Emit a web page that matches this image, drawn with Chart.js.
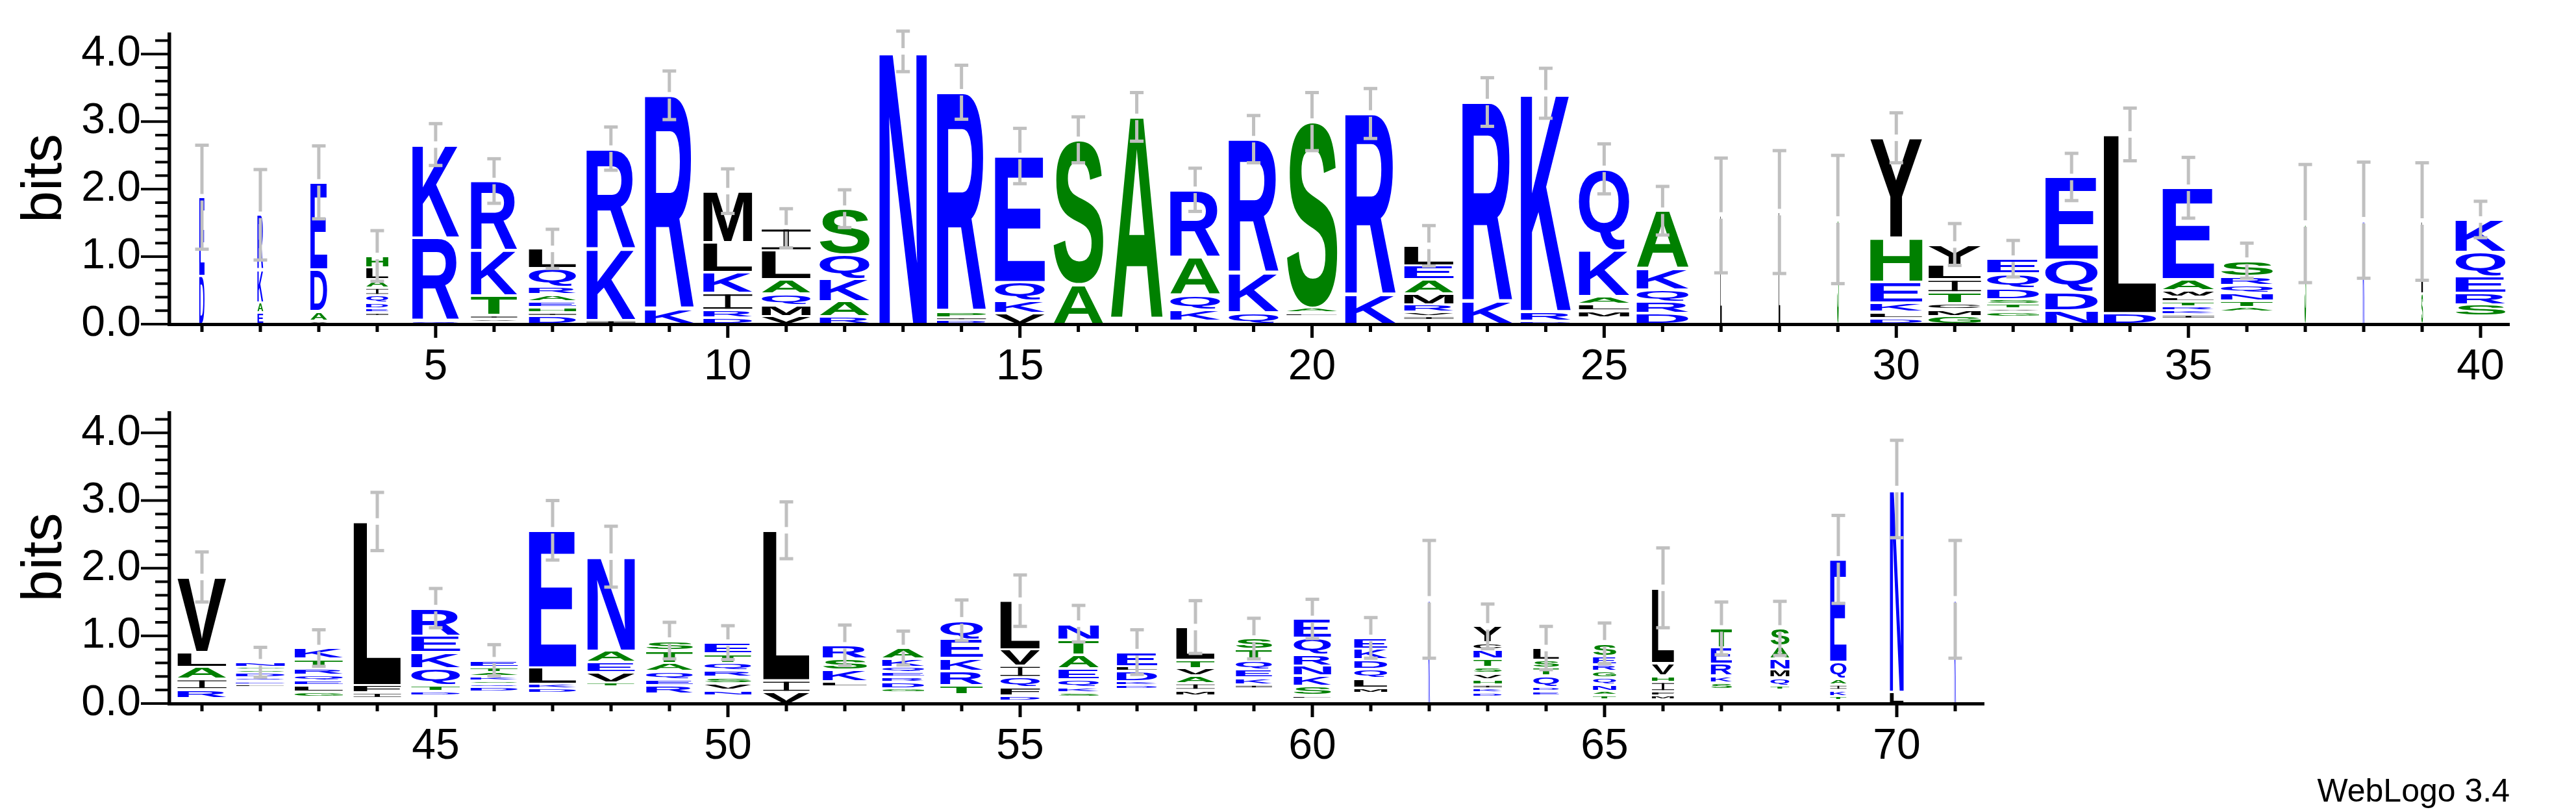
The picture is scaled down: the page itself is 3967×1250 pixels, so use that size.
<!DOCTYPE html>
<html>
<head>
<meta charset="utf-8">
<title>WebLogo</title>
<script src="https://cdn.jsdelivr.net/npm/chart.js@4"></script>
<style>
  html, body { margin: 0; padding: 0; background: #fff; }
  body { width: 3967px; height: 1250px; position: relative; overflow: hidden; }
  canvas { position: absolute; left: 0; }
  #topLogo { top: 0; }
  #bottomLogo { top: 600px; }
  #credit {
    position: absolute; right: 102px; top: 1192px;
    font: 50px "Liberation Sans", Arial, sans-serif; line-height: 50px; color: #000;
  }
</style>
</head>
<body>
<canvas id="topLogo" width="3967" height="620"></canvas>
<canvas id="bottomLogo" width="3967" height="650"></canvas>
<div id="credit">WebLogo 3.4</div>
<script>
// positions (x categories)
const topPositions = [1, 2, 3, 4, 5, 6, 7, 8, 9, 10, 11, 12, 13, 14, 15, 16, 17, 18, 19, 20,
  21, 22, 23, 24, 25, 26, 27, 28, 29, 30, 31, 32, 33, 34, 35, 36, 37, 38, 39, 40];
const bottomPositions = [41, 42, 43, 44, 45, 46, 47, 48, 49, 50, 51, 52, 53, 54, 55, 56,
  57, 58, 59, 60, 61, 62, 63, 64, 65, 66, 67, 68, 69, 70, 71];

const yTicks = [0, 1, 2, 3, 4];
const yMax = 4.32;

// letters per column, bottom to top ('-' = tiny letters too small to draw)
const topLetters = ['DE', 'EAKR', 'VADE', '-IEDQIALH', 'QRK', '-VITKR', 'DIHEARQL', 'IKR',
  'KR', 'DRIKLM', 'VMQALI', 'RAKQS', 'N', 'DIPR', 'VKQE', 'AS', '-A', '-KQAR', 'QKR', '-LAS',
  'KR', '-IVRMAEL', 'KR', 'DRK', '-MLAKQ', 'DRQKA', 'L', 'L', 'S', 'DLKEHY', 'GMCTILY',
  '-GVTSDQE', 'NDQE', 'DL', '-IKRTLWAE', '-ATNQRS', 'S', 'K', 'SL', '-SREQK'];

// bits per letter, same order
const topBits = [
  [0.71, 1.17], [0.17, 0.15, 0.48, 0.82], [0.05, 0.14, 0.62, 1.29],
  [0.12, 0.05, 0.06, 0.09, 0.11, 0.11, 0.12, 0.18, 0.17], [0.05, 1.23, 1.38],
  [0.03, 0.05, 0.05, 0.29, 0.67, 1.03], [0.12, 0.05, 0.08, 0.085, 0.105, 0.115, 0.27, 0.29],
  [0.06, 1.06, 1.48], [0.22, 3.17], [0.1, 0.11, 0.25, 0.31, 0.44, 0.76],
  [0.12, 0.16, 0.17, 0.21, 0.43, 0.33], [0.11, 0.23, 0.33, 0.36, 0.68], [4.04],
  [0.06, 0.04, 0.085, 3.25], [0.16, 0.19, 0.27, 1.87], [0.59, 2.14], [0.07, 3.0],
  [0.05, 0.16, 0.22, 0.56, 1.0], [0.17, 0.59, 1.98], [0.12, 0.05, 0.07, 2.76], [0.43, 2.69],
  [0.06, 0.06, 0.06, 0.11, 0.16, 0.21, 0.21, 0.29], [0.33, 2.96], [0.05, 0.14, 3.23],
  [0.1, 0.1, 0.1, 0.11, 0.68, 1.21], [0.16, 0.17, 0.18, 0.31, 0.86], [1.61], [1.66], [1.55],
  [0.09, 0.09, 0.14, 0.31, 0.65, 1.48], [0.12, 0.1, 0.09, 0.16, 0.19, 0.22, 0.3],
  [0.11, 0.07, 0.05, 0.07, 0.07, 0.16, 0.22, 0.22], [0.2, 0.27, 0.48, 1.23], [0.16, 2.65],
  [0.08, 0.06, 0.06, 0.06, 0.08, 0.06, 0.1, 0.16, 1.36], [0.18, 0.07, 0.1, 0.11, 0.12, 0.13, 0.23],
  [1.49], [1.54], [0.45, 1.07], [0.12, 0.17, 0.17, 0.25, 0.36, 0.48]
];

// column width as a fraction of a full stack
const topWidths = [0.1, 0.11, 0.32, 0.42, 0.89, 0.88, 0.9, 0.93, 0.93, 0.93, 0.93, 0.95, 0.9,
  0.93, 0.95, 0.95, 0.99, 0.95, 0.95, 0.96, 0.96, 0.94, 0.95, 0.95, 0.96, 0.99, 0.03, 0.03,
  0.03, 0.99, 1.0, 0.99, 1.0, 1.0, 0.98, 0.99, 0.03, 0.03, 0.03, 0.95];

// error bar half heights (bits)
const topErrors = [0.77, 0.67, 0.54, 0.375, 0.31, 0.33, 0.29, 0.32, 0.36, 0.33, 0.29, 0.28,
  0.30, 0.40, 0.41, 0.34, 0.36, 0.32, 0.35, 0.43, 0.37, 0.30, 0.36, 0.37, 0.37, 0.36, 0.85,
  0.91, 0.95, 0.37, 0.31, 0.27, 0.35, 0.39, 0.45, 0.26, 0.875, 0.86, 0.87, 0.27];

const bottomLetters = ['-RIALV', '-LEQDSGN', '-GLEQRTK', '-IFL', '-DTQKER', '-DQSKATE',
  '-DKLE', '-TVEAN', '-REQATS', '-NVSRQTE', 'VIL', '-LKSR', '-GDREQKA', '-TRKEQ', '-DFQIVL',
  '-SKQEATN', '-DKDLE', '-MIAVTL', '-IKEQTS', '-LSKNRQE', '-MLQDKE', 'K', '-DKIHVSTNCY',
  '-EDQTSL', '-TANQGRES', '-MFIHVL', '-SKRET', '-TQMNAS', '-TKIAQE', 'LN', 'K'];

const bottomBits = [
  [0.08, 0.13, 0.15, 0.18, 0.22, 1.11], [0.24, 0.04, 0.05, 0.05, 0.07, 0.05, 0.04, 0.07],
  [0.1, 0.07, 0.1, 0.07, 0.08, 0.1, 0.14, 0.16], [0.08, 0.08, 0.11, 2.42],
  [0.12, 0.06, 0.09, 0.25, 0.24, 0.24, 0.41], [0.17, 0.07, 0.05, 0.05, 0.06, 0.06, 0.08, 0.1],
  [0.15, 0.07, 0.07, 0.24, 2.03], [0.25, 0.06, 0.15, 0.15, 0.17, 1.39],
  [0.14, 0.13, 0.09, 0.12, 0.12, 0.19, 0.14], [0.12, 0.08, 0.1, 0.09, 0.1, 0.11, 0.14, 0.16],
  [0.17, 0.17, 2.22], [0.25, 0.08, 0.17, 0.16, 0.2],
  [0.16, 0.06, 0.1, 0.07, 0.07, 0.08, 0.12, 0.16], [0.13, 0.14, 0.21, 0.19, 0.28, 0.28],
  [0.04, 0.08, 0.12, 0.15, 0.17, 0.24, 0.72], [0.1, 0.06, 0.08, 0.12, 0.16, 0.2, 0.22, 0.24],
  [0.21, 0.06, 0.06, 0.15, 0.07, 0.21], [0.12, 0.08, 0.1, 0.11, 0.11, 0.12, 0.49],
  [0.22, 0.06, 0.1, 0.12, 0.13, 0.17, 0.16], [0.07, 0.05, 0.14, 0.15, 0.15, 0.16, 0.25, 0.28],
  [0.15, 0.08, 0.14, 0.14, 0.14, 0.16, 0.16], [1.54],
  [0.1, 0.06, 0.06, 0.06, 0.08, 0.09, 0.09, 0.12, 0.14, 0.1, 0.24],
  [0.12, 0.06, 0.06, 0.17, 0.12, 0.11, 0.18], [0.06, 0.06, 0.06, 0.1, 0.1, 0.1, 0.1, 0.12, 0.19],
  [0.06, 0.06, 0.06, 0.14, 0.09, 0.19, 1.11], [0.21, 0.1, 0.1, 0.18, 0.24, 0.28],
  [0.2, 0.06, 0.12, 0.12, 0.16, 0.19, 0.26], [0.05, 0.06, 0.09, 0.08, 0.09, 0.24, 1.52],
  [0.17, 3.0], [1.54]
];

const bottomWidths = [0.93, 0.93, 0.92, 0.9, 0.93, 0.9, 0.9, 0.9, 0.89, 0.89, 0.88, 0.84, 0.8,
  0.81, 0.75, 0.77, 0.77, 0.73, 0.69, 0.71, 0.63, 0.03, 0.54, 0.49, 0.44, 0.42, 0.4, 0.36,
  0.31, 0.26, 0.03];

const bottomErrors = [0.37, 0.22, 0.27, 0.43, 0.29, 0.23, 0.44, 0.45, 0.27, 0.25, 0.42, 0.30,
  0.25, 0.30, 0.38, 0.27, 0.33, 0.39, 0.30, 0.29, 0.30, 0.87, 0.33, 0.32, 0.30, 0.59, 0.39,
  0.40, 0.65, 0.72, 0.87];

const FONT = '"Liberation Sans", Arial, Helvetica, sans-serif';

// hydrophobicity colour scheme
function letterColor(ch) {
  if ('RKDENQ'.includes(ch)) return '#0000ff';
  if ('SGHTAP'.includes(ch)) return '#008000';
  return '#000000';
}

// stretch one glyph so it fills its box
function drawLetter(ctx, ch, cx, w, top, bottom) {
  const inset = 2;
  let y0 = top + inset;
  let y1 = bottom - inset;
  if (y1 - y0 < 1) {
    const mid = (top + bottom) / 2;
    y0 = mid - 0.5;
    y1 = mid + 0.5;
  }
  const h = y1 - y0;
  const x0 = cx - w / 2;

  ctx.save();
  ctx.fillStyle = letterColor(ch);
  if (ch === 'I') {
    const bar = Math.max(h * 0.1, 0.6);
    const stem = Math.max(w * 0.11, 1);
    ctx.fillRect(x0, y0, w, bar);
    ctx.fillRect(x0, y1 - bar, w, bar);
    ctx.fillRect(cx - stem / 2, y0, stem, h);
  } else {
    ctx.font = 'bold 200px ' + FONT;
    ctx.textBaseline = 'alphabetic';
    ctx.textAlign = 'left';
    const m = ctx.measureText(ch);
    const gl = -m.actualBoundingBoxLeft;
    const gr = m.actualBoundingBoxRight;
    const gt = -m.actualBoundingBoxAscent;
    const gb = m.actualBoundingBoxDescent;
    ctx.translate(x0, y0);
    ctx.scale(w / (gr - gl), h / (gb - gt));
    ctx.translate(-gl, -gt);
    ctx.fillText(ch, 0, 0);
  }
  ctx.restore();
}

function makeLogo(canvasId, positions, letters, bits, widths, errors, padTop, padRight, axisHeight) {
  const layers = Math.max(...letters.map(s => s.length));
  const datasets = [];
  for (let k = 0; k < layers; k++) {
    datasets.push({
      data: bits.map(col => (col[k] !== undefined ? col[k] : null)),
      backgroundColor: 'rgba(0,0,0,0)',
      borderWidth: 0,
      barPercentage: 0.9,
      categoryPercentage: 1.0
    });
  }

  const logoPlugin = {
    id: 'logo',
    afterDatasetsDraw(chart) {
      const ctx = chart.ctx;
      const xs = chart.scales.x;
      const ys = chart.scales.y;

      // letters
      chart.data.datasets.forEach((ds, k) => {
        const meta = chart.getDatasetMeta(k);
        meta.data.forEach((bar, j) => {
          const ch = letters[j][k];
          if (!ch || ch === '-') return;
          drawLetter(ctx, ch, bar.x, bar.width * widths[j], bar.y, bar.base);
        });
      });

      // error bars
      ctx.save();
      ctx.fillStyle = '#c0c0c0';
      bits.forEach((col, j) => {
        const total = col.reduce((a, b) => a + b, 0);
        const x = xs.getPixelForValue(j);
        const yTop = ys.getPixelForValue(total + errors[j]);
        const yMid = ys.getPixelForValue(total);
        const yBot = ys.getPixelForValue(Math.max(total - errors[j], 0));
        const gap = 5;
        ctx.fillRect(x - 2.5, yTop, 5, yMid - gap - yTop);
        ctx.fillRect(x - 2.5, yMid + gap, 5, yBot - yMid - gap);
        ctx.fillRect(x - 10.5, yTop - 2.5, 21, 5);
        ctx.fillRect(x - 10.5, yBot - 2.5, 21, 5);
      });
      ctx.restore();
    },
    afterDraw(chart) {
      const ctx = chart.ctx;
      const xs = chart.scales.x;
      const ys = chart.scales.y;
      const { left, right, top, bottom } = chart.chartArea;
      ctx.save();
      ctx.fillStyle = '#000';
      // axis lines
      ctx.fillRect(left - 8, top, 5.5, bottom - top + 3);
      ctx.fillRect(left - 8, bottom - 2, right - left + 8, 5);
      // y ticks, minor every 0.2
      for (let i = 0; i <= 21; i++) {
        const v = i * 0.2;
        const y = ys.getPixelForValue(v);
        const len = i % 5 === 0 ? 46 : 24;
        ctx.fillRect(left - 3 - len, y - 2, len, 4);
      }
      // x ticks
      positions.forEach((p, j) => {
        const x = xs.getPixelForValue(j);
        const len = p % 5 === 0 ? 21 : 12;
        ctx.fillRect(x - 2.5, bottom, 5, len);
      });
      ctx.restore();
    }
  };

  return new Chart(document.getElementById(canvasId), {
    type: 'bar',
    data: { labels: positions.map(String), datasets: datasets },
    options: {
      responsive: false,
      animation: false,
      devicePixelRatio: 1,
      layout: { padding: { left: 0, right: padRight, top: padTop, bottom: 0 } },
      plugins: { legend: { display: false }, tooltip: { enabled: false } },
      scales: {
        x: {
          stacked: true,
          offset: true,
          grid: { display: false, drawTicks: false },
          border: { display: false },
          ticks: {
            autoSkip: false,
            maxRotation: 0,
            minRotation: 0,
            padding: 27,
            color: '#000',
            font: { family: FONT, size: 66 },
            callback: (value, index) => (positions[index] % 5 === 0 ? String(positions[index]) : '')
          },
          afterFit: s => {
            s.height = axisHeight;
            s.paddingLeft = 0;
            s.paddingRight = 0;
          }
        },
        y: {
          stacked: true,
          min: 0,
          max: yMax,
          grid: { display: false, drawTicks: false },
          border: { display: false },
          ticks: {
            stepSize: 1,
            includeBounds: false,
            padding: 49,
            color: '#000',
            font: { family: FONT, size: 66 },
            callback: v => (yTicks.includes(v) ? v.toFixed(1) : '')
          },
          title: {
            display: true,
            text: 'bits',
            color: '#000',
            font: { family: FONT, size: 88 },
            padding: { top: 17, bottom: 0 }
          },
          afterFit: s => {
            s.width = 266;
            s.paddingTop = 0;
            s.paddingBottom = 0;
          }
        }
      }
    },
    plugins: [logoPlugin]
  });
}

makeLogo('topLogo', topPositions, topLetters, topBits, topWidths, topErrors, 50, 102, 121);
makeLogo('bottomLogo', bottomPositions, bottomLetters, bottomBits, bottomWidths, bottomErrors, 33, 911, 167);
</script>
</body>
</html>
